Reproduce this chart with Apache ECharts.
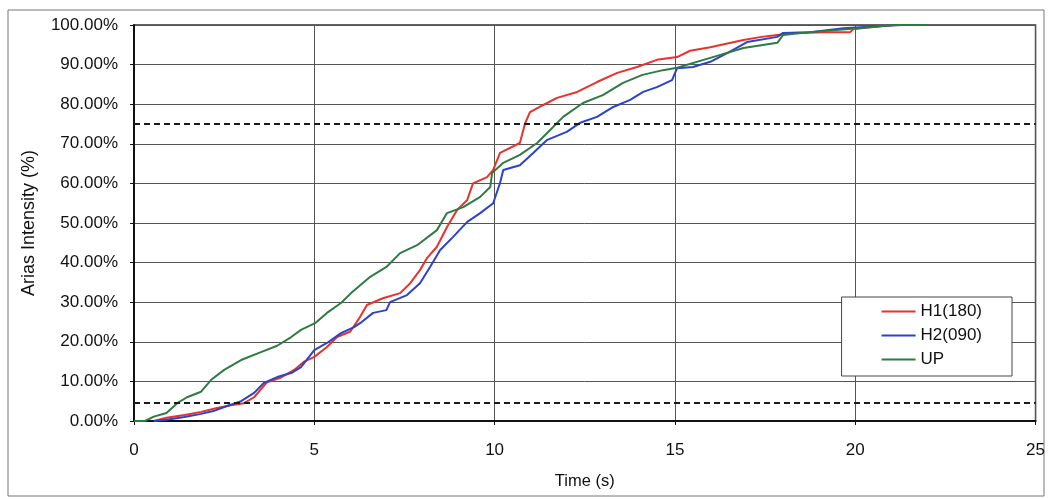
<!DOCTYPE html>
<html>
<head>
<meta charset="utf-8">
<script src="https://cdn.jsdelivr.net/npm/echarts@6/dist/echarts.min.js"></script>
<style>
html, body { margin: 0; padding: 0; background: #fff; }
#chart { width: 1048px; height: 499px; }
</style>
</head>
<body>
<div id="chart"></div>
<script type="text/javascript">
	// Arias intensity build-up, [time (s), %]
	var h1Data = [
		[0.55, 0], [0.9, 0.8], [1.4, 1.5], [1.86, 2.3], [2.3, 3.3], [2.69, 4.0], [3.05, 4.5],
		[3.33, 6.0], [3.69, 9.8], [4.08, 11.0], [4.44, 12.9], [4.72, 15.0], [5.0, 16.2],
		[5.35, 18.7], [5.63, 21.2], [6.0, 22.6], [6.27, 26.3], [6.46, 29.3], [6.9, 31.0],
		[7.38, 32.3], [7.66, 34.8], [7.93, 38.1], [8.13, 41.2], [8.4, 44.0], [8.68, 49.0],
		[8.96, 53.3], [9.24, 55.8], [9.4, 60.0], [9.79, 61.6], [9.96, 63.4], [10.15, 67.7],
		[10.7, 70.2], [10.85, 75.3], [10.98, 78.0], [11.35, 79.8], [11.73, 81.6],
		[12.29, 83.1], [12.84, 85.6], [13.4, 87.9], [13.95, 89.4], [14.5, 91.2],
		[15.06, 91.9], [15.42, 93.5], [15.98, 94.4], [16.9, 96.2], [17.4, 97.0],
		[17.84, 97.5], [18.3, 98.0], [19.2, 98.2], [19.86, 98.2], [19.95, 99.0],
		[21.05, 100], [22.0, 100]
	];
	var h2Data = [
		[0.55, 0], [0.9, 0.3], [1.4, 1.0], [1.86, 1.8], [2.2, 2.5], [2.58, 3.8], [2.97, 5.0],
		[3.33, 7.1], [3.6, 9.6], [3.97, 11.1], [4.36, 12.1], [4.63, 13.6], [5.0, 17.9],
		[5.35, 19.7], [5.74, 22.2], [6.1, 23.7], [6.27, 24.7], [6.63, 27.3], [7.0, 28.0],
		[7.1, 30.0], [7.57, 31.8], [7.93, 34.8], [8.21, 38.9], [8.49, 43.2], [8.85, 46.5],
		[9.24, 50.3], [9.6, 52.5], [9.96, 55.0], [10.15, 60.1], [10.24, 63.4],
		[10.7, 64.6], [11.07, 67.7], [11.46, 71.0], [12.0, 73.0], [12.37, 75.3],
		[12.84, 76.8], [13.29, 79.3], [13.76, 81.1], [14.12, 83.1], [14.5, 84.3],
		[14.92, 86.1], [15.06, 89.1], [15.5, 89.4], [15.98, 90.7], [16.45, 92.9],
		[17.0, 95.7], [17.84, 97.0], [18.0, 98.0], [18.75, 98.2], [19.67, 99.2],
		[20.6, 99.7], [21.3, 100], [22.0, 100]
	];
	var upData = [
		[0, 0], [0.3, 0], [0.55, 1.1], [0.9, 2.0], [1.2, 4.5], [1.47, 6.0], [1.86, 7.4],
		[2.14, 10.4], [2.5, 12.9], [2.97, 15.4], [3.52, 17.4], [3.97, 19.0], [4.36, 21.2],
		[4.63, 23.0], [5.02, 24.7], [5.35, 27.3], [5.74, 29.8], [6.02, 32.3], [6.55, 36.4],
		[7.0, 38.9], [7.38, 42.4], [7.85, 44.4], [8.4, 48.2], [8.68, 52.5], [9.13, 54.0],
		[9.6, 56.6], [9.88, 59.1], [9.93, 62.6], [10.24, 65.2], [10.7, 67.2], [11.18, 70.2],
		[11.54, 73.5], [11.9, 76.8], [12.45, 80.3], [13.0, 82.3], [13.56, 85.4],
		[14.1, 87.4], [14.67, 88.6], [15.06, 89.2], [15.98, 91.7], [16.9, 94.2],
		[17.84, 95.5], [18.0, 97.5], [18.75, 98.2], [20.1, 99.2], [21.05, 100], [22.0, 100]
	];
	// 5% / 75% limits
	var limitLines = [4.5, 75];

	var seriesNames = ['H1(180)', 'H2(090)', 'UP'];
	var seriesColors = ['#e8322b', '#2b43c9', '#2f7b43'];

	var myChart = echarts.init(document.getElementById('chart'));
	var font = 'Liberation Sans, Arial, sans-serif';

	function makeLine(name, color, data) {
		return {
			name : name,
			type : 'line',
			symbol : 'none',
			color : color,
			lineStyle : { width : 2, color : color },
			data : data,
			z : 3
		};
	}

	var series = [
		makeLine(seriesNames[0], seriesColors[0], h1Data),
		makeLine(seriesNames[1], seriesColors[1], h2Data),
		makeLine(seriesNames[2], seriesColors[2], upData)
	];
	series[0].markLine = {
		silent : true,
		symbol : 'none',
		label : { show : false },
		lineStyle : { color : '#1a1a1a', type : [6, 4], width : 2 },
		data : limitLines.map(function(v) { return { yAxis : v }; })
	};

	var option = {
		animation : false,
		backgroundColor : '#fff',
		textStyle : { fontFamily : font },
		graphic : [ {
			type : 'rect',
			shape : { x : 8, y : 10, width : 1036, height : 486 },
			style : { fill : 'none', stroke : '#777', lineWidth : 1 },
			silent : true
		} ],
		legend : {
			orient : 'vertical',
			right : 36,
			top : 297,
			data : seriesNames,
			icon : 'rect',
			itemWidth : 34,
			itemHeight : 2,
			itemGap : 7,
			padding : [6, 30, 8, 40],
			borderColor : '#444',
			borderWidth : 1,
			backgroundColor : '#fff',
			textStyle : { fontSize : 17, color : '#111', fontFamily : font, padding : [0, 0, 0, 0] }
		},
		grid : {
			left : 134,
			right : 12,
			top : 25,
			bottom : 78,
			show : true,
			borderColor : '#333',
			borderWidth : 1.5
		},
		xAxis : {
			type : 'value',
			min : 0,
			max : 25,
			interval : 5,
			name : 'Time (s)',
			nameLocation : 'middle',
			nameGap : 52,
			nameTextStyle : { fontSize : 16.5, color : '#111', fontFamily : font },
			axisLine : { lineStyle : { color : '#111', width : 2 } },
			axisTick : { show : true, length : 4, lineStyle : { color : '#111' } },
			axisLabel : { fontSize : 17, color : '#111', margin : 21, fontFamily : font },
			splitLine : { show : true, lineStyle : { color : '#555', width : 1 } }
		},
		yAxis : {
			type : 'value',
			min : 0,
			max : 100,
			interval : 10,
			name : 'Arias Intensity (%)',
			nameLocation : 'middle',
			nameGap : 96,
			nameTextStyle : { fontSize : 18, color : '#111', fontFamily : font },
			axisLine : { show : true, lineStyle : { color : '#111', width : 2 } },
			axisTick : { show : true, length : 4, lineStyle : { color : '#111' } },
			axisLabel : {
				fontSize : 17,
				color : '#111',
				margin : 16,
				fontFamily : font,
				formatter : function(v) { return v.toFixed(2) + '%'; }
			},
			splitLine : { show : true, lineStyle : { color : '#555', width : 1 } }
		},
		series : series
	};
	myChart.setOption(option);
</script>
</body>
</html>
